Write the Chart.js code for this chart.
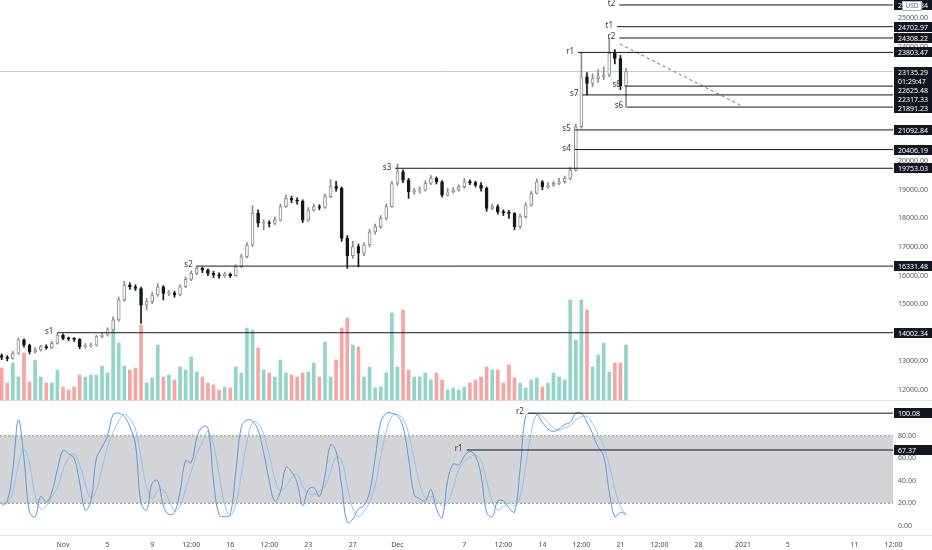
<!DOCTYPE html>
<html>
<head>
<meta charset="utf-8">
<script src="https://cdn.jsdelivr.net/npm/chart.js@4.4.1/dist/chart.umd.min.js"></script>
<style>
  html, body { margin: 0; padding: 0; background: #ffffff; }
  canvas { display: block; }
</style>
</head>
<body>
<canvas id="btcChart" width="932" height="550"></canvas>
<script>
// x = days since Nov 1 2020, one candle every 12h
const firstDay = -5.5;
const firstOpen = 13200;

const closes = [
  13140, 13105, 13280, 13750, 13570, 13340, 13400, 13515, 13480, 13630,
  13920, 13805, 13790, 13770, 13515, 13540, 13570, 13865, 13920, 14100,
  14450, 15150, 15670, 15610, 15550, 14970, 15090, 15320, 15610, 15380,
  15400, 15320, 15610, 15870, 16080, 16250, 16190, 16080, 16020, 15990,
  16040, 16000, 16310, 16660, 17070, 18180, 17830, 17850, 17820, 17940,
  18410, 18700, 18640, 18600, 17940, 18290, 18410, 18380, 18760, 19110,
  19050, 17300, 16700, 17010, 16780, 17070, 17530, 17710, 18000, 18410,
  19220, 19630, 19340, 18930, 18960, 18990, 19225, 19400, 19280, 18815,
  18930, 18990, 19105, 19280, 19250, 19165, 19050, 18350, 18410, 18230,
  18200, 18175, 17710, 18060, 18465, 18875, 19280, 19105, 19165, 19225,
  19280, 19400, 19690, 21205, 22950, 22720, 22890, 22950, 23010, 23770,
  23590, 22625, 23135
];
const highs = [
  13260, 13200, 13350, 13820, 13790, 13600, 13480, 13560, 13580, 13700,
  14002, 13960, 13850, 13830, 13800, 13620, 13640, 13920, 13990, 14180,
  14560, 15250, 15800, 15750, 15680, 15600, 15200, 15420, 15720, 15650,
  15480, 15450, 15680, 15950, 16160, 16331, 16300, 16240, 16150, 16100,
  16120, 16090, 16380, 16750, 17150, 18450, 18300, 17950, 17920, 18050,
  18500, 18820, 18780, 18720, 18650, 18380, 18500, 18480, 18850, 19350,
  19300, 19100, 17400, 17200, 17100, 17150, 17620, 17800, 18100, 18500,
  19300, 19900, 19700, 19400, 19050, 19100, 19320, 19500, 19450, 19320,
  19050, 19080, 19180, 19400, 19350, 19300, 19250, 19100, 18500, 18480,
  18300, 18280, 18200, 18150, 18550, 18950, 19380, 19320, 19250, 19300,
  19400, 19480, 19780, 21300, 23803, 23100, 23050, 23200, 23300, 24308,
  23900, 23700, 23250
];
const lows = [
  13060, 13020, 13080, 13250, 13500, 13260, 13280, 13360, 13420, 13450,
  13600, 13760, 13720, 13700, 13440, 13460, 13490, 13540, 13820, 13880,
  14060, 14400, 15100, 15520, 15480, 14330, 14800, 15020, 15280, 15150,
  15300, 15240, 15290, 15580, 15820, 16030, 16100, 16000, 15930, 15900,
  15940, 15930, 15980, 16280, 16620, 17020, 17700, 17600, 17700, 17780,
  17900, 18380, 18550, 18500, 17850, 17900, 18250, 18300, 18350, 18720,
  18950, 17200, 16250, 16600, 16300, 16700, 17000, 17450, 17650, 17950,
  18380, 19150, 19250, 18700, 18850, 18880, 18950, 19180, 19200, 18750,
  18780, 18880, 18950, 19050, 19180, 19100, 18950, 18250, 18300, 18150,
  18100, 18000, 17600, 17650, 18000, 18420, 18850, 19000, 19050, 19120,
  19180, 19230, 19350, 19650, 21150, 22317, 22600, 22750, 22850, 22950,
  23400, 22500, 21891
];
const volumes = [
  32, 17, 37, 23, 47, 18, 40, 23, 17, 17,
  30, 13, 10, 13, 25, 23, 25, 25, 34, 27,
  70, 57, 34, 30, 32, 75, 17, 22, 55, 23,
  25, 20, 33, 30, 43, 28, 23, 17, 15, 10,
  13, 12, 33, 27, 72, 70, 52, 30, 27, 23,
  40, 27, 25, 23, 27, 28, 37, 23, 58, 23,
  40, 72, 82, 55, 53, 23, 33, 12, 13, 27,
  87, 33, 90, 30, 23, 23, 27, 20, 27, 20,
  10, 12, 10, 13, 17, 20, 23, 33, 30, 30,
  17, 35, 22, 17, 12, 20, 22, 13, 17, 27,
  23, 20, 100, 60, 100, 90, 33, 45, 57, 28,
  37, 37, 55
];
const stochK = [
  18, 22, 50, 94, 60, 12, 8, 26, 21, 30,
  50, 67, 64, 60, 38, 14, 22, 60, 70, 80,
  99, 100, 97, 88, 72, 20, 14, 38, 40, 18,
  10, 12, 30, 58, 56, 78, 88, 87, 40, 10,
  8, 10, 48, 88, 94, 93, 85, 65, 40, 22,
  30, 52, 48, 38, 18, 32, 34, 26, 45, 72,
  66, 35, 3, 6, 15, 18, 30, 60, 92, 100,
  100, 98, 88, 60, 28, 24, 22, 32, 15, 7,
  40, 55, 54, 62, 66, 62, 45, 12, 8, 22,
  22, 16, 12, 50, 98, 100, 99, 92, 86, 84,
  86, 90, 92, 100, 100, 92, 82, 70, 62, 30,
  8, 12, 10
];
const stochD = [
  20, 20, 30, 55, 68, 55, 27, 15, 18, 26,
  34, 50, 60, 64, 54, 37, 25, 32, 51, 70,
  83, 93, 99, 95, 86, 60, 35, 24, 31, 32,
  23, 13, 17, 33, 48, 64, 74, 84, 72, 46,
  19, 9, 19, 46, 74, 92, 91, 81, 63, 42,
  31, 35, 43, 46, 35, 29, 28, 31, 35, 48,
  61, 58, 35, 15, 8, 13, 21, 36, 61, 84,
  97, 99, 95, 82, 59, 37, 25, 26, 23, 18,
  21, 34, 50, 57, 61, 63, 58, 40, 22, 14,
  17, 20, 17, 26, 53, 83, 99, 97, 92, 87,
  85, 87, 89, 94, 97, 97, 91, 81, 71, 54,
  33, 17, 10
];

const priceTicks = [12000, 12500, 13000, 13500, 14000, 14500, 15000, 15500, 16000, 16500, 17000, 17500, 18000, 18500, 19000, 19500, 20000, 20500, 21000, 21500, 22000, 22500, 23000, 23500, 24000, 24500, 25000];
const stochTicks = [0, 20, 40, 60, 80, 100];
const dateTicks = [0, 4, 8, 11.5, 15, 18.5, 22, 26, 30, 36, 39.5, 43, 46.5, 50, 53.5, 57, 61, 65, 71, 74.5];
const dateLabels = ['Nov', '5', '9', '12:00', '16', '12:00', '23', '27', 'Dec', '7', '12:00', '14', '12:00', '21', '12:00', '28', '2021', '5', '11', '12:00'];

const levelNames = ['t2', 't1', 'r2', 'r1', 's8', 's7', 's6', 's5', 's4', 's3', 's2', 's1'];
const levelPrices = [25461.84, 24702.97, 24308.22, 23803.47, 22625.48, 22317.33, 21891.23, 21092.84, 20406.19, 19753.03, 16331.48, 14002.34];
const levelStarts = [49.9, 49.7, 49.9, 46.2, 50.4, 46.6, 50.6, 45.9, 45.9, 29.8, 12.0, -0.5];

const stochLevelNames = ['r2', 'r1'];
const stochLevels = [100.08, 67.37];
const stochStarts = [41.7, 36.2];

const lastPrice = 23135.29;
const countdown = '01:29:47';
const trendFrom = [49.96, 24098];
const trendTo = [60.9, 21930];

const xMin = -5.65, xMax = 74.45;
const FONT = '"Noto Sans", "DejaVu Sans", sans-serif';
const INK = '#131722';

const xs = closes.map((c, i) => firstDay + i * 0.5);
const opens = closes.map((c, i) => i === 0 ? firstOpen : closes[i - 1]);
const isUp = closes.map((c, i) => c >= opens[i]);

const datasets = [];

// candle bodies and wicks
datasets.push({
  type: 'bar', yAxisID: 'y', order: 1, grouped: false,
  data: xs.map((x, i) => ({ x: x, y: [opens[i], closes[i]] })),
  backgroundColor: isUp.map(u => u ? '#ffffff' : INK),
  borderColor: isUp.map(u => u ? '#8c8c8c' : INK),
  borderWidth: 1, borderSkipped: false, barThickness: 3, minBarLength: 1
});
datasets.push({
  type: 'bar', yAxisID: 'y', order: 2, grouped: false,
  data: xs.map((x, i) => ({ x: x, y: [lows[i], highs[i]] })),
  backgroundColor: isUp.map(u => u ? '#8c8c8c' : INK),
  barThickness: 1
});
// volume
datasets.push({
  type: 'bar', yAxisID: 'yVol', order: 6, grouped: false,
  data: xs.map((x, i) => ({ x: x, y: volumes[i] })),
  backgroundColor: isUp.map(u => u ? '#92d4c9' : '#f5a5a3'),
  barThickness: 3
});
// support / resistance levels
levelPrices.forEach((p, i) => {
  datasets.push({
    type: 'line', yAxisID: 'y', order: 0,
    data: [{ x: levelStarts[i], y: p }, { x: xMax, y: p }],
    borderColor: INK, borderWidth: 1, pointRadius: 0
  });
});
// last price line
datasets.push({
  type: 'line', yAxisID: 'y', order: 7,
  data: [{ x: xMin, y: lastPrice }, { x: xMax, y: lastPrice }],
  borderColor: '#c9cbd1', borderWidth: 1, pointRadius: 0
});
// trend line
datasets.push({
  type: 'line', yAxisID: 'y', order: 0,
  data: [{ x: trendFrom[0], y: trendFrom[1] }, { x: trendTo[0], y: trendTo[1] }],
  borderColor: '#6b6b6b', borderWidth: 1, borderDash: [3, 3], pointRadius: 0
});
// stoch band 20-80
datasets.push({
  type: 'line', yAxisID: 'yStoch', order: 9,
  data: [{ x: xMin, y: 80 }, { x: xMax, y: 80 }],
  borderColor: '#8a8a8a', borderWidth: 1, borderDash: [2, 2], pointRadius: 0,
  fill: { value: 20 }, backgroundColor: '#d3d4d7'
});
datasets.push({
  type: 'line', yAxisID: 'yStoch', order: 8,
  data: [{ x: xMin, y: 20 }, { x: xMax, y: 20 }],
  borderColor: '#8a8a8a', borderWidth: 1, borderDash: [2, 2], pointRadius: 0
});
// stoch RSI lines
datasets.push({
  type: 'line', yAxisID: 'yStoch', order: 3,
  data: xs.map((x, i) => ({ x: x, y: stochD[i] })),
  borderColor: '#8fc2ee', borderWidth: 1, pointRadius: 0, tension: 0.4
});
datasets.push({
  type: 'line', yAxisID: 'yStoch', order: 2,
  data: xs.map((x, i) => ({ x: x, y: stochK[i] })),
  borderColor: '#5b98d6', borderWidth: 1, pointRadius: 0, tension: 0.4
});
stochLevels.forEach((v, i) => {
  datasets.push({
    type: 'line', yAxisID: 'yStoch', order: 0,
    data: [{ x: stochStarts[i], y: v }, { x: xMax, y: v }],
    borderColor: INK, borderWidth: 1, pointRadius: 0
  });
});

function tagBox(ctx, x, y, text) {
  ctx.fillStyle = INK;
  ctx.fillRect(x, Math.round(y) - 5, 932 - x, 10);
  ctx.fillStyle = '#ffffff';
  ctx.font = '7px ' + FONT;
  ctx.textAlign = 'left';
  ctx.textBaseline = 'middle';
  ctx.fillText(text, x + 4, Math.round(y) + 0.5);
}

const overlay = {
  id: 'overlay',
  beforeDatasetsDraw(chart) {
    const ctx = chart.ctx, area = chart.chartArea, ys = chart.scales.yStoch;
    ctx.save();
    ctx.strokeStyle = '#e0e3eb';
    ctx.lineWidth = 1;
    ctx.beginPath();
    ctx.moveTo(0, Math.round(ys.top) + 0.5); ctx.lineTo(932, Math.round(ys.top) + 0.5);
    ctx.moveTo(0, Math.round(area.bottom) + 0.5); ctx.lineTo(932, Math.round(area.bottom) + 0.5);
    ctx.stroke();
    ctx.restore();
  },
  afterDraw(chart) {
    const ctx = chart.ctx, sx = chart.scales.x, sy = chart.scales.y, ss = chart.scales.yStoch;
    const boxX = Math.round(chart.chartArea.right) + 1;
    ctx.save();
    ctx.font = '8px ' + FONT;
    ctx.fillStyle = '#333';
    ctx.textAlign = 'right';
    ctx.textBaseline = 'middle';
    levelNames.forEach((n, i) => {
      ctx.fillText(n, sx.getPixelForValue(levelStarts[i]) - 4, sy.getPixelForValue(levelPrices[i]) - 1);
    });
    stochLevelNames.forEach((n, i) => {
      ctx.fillText(n, sx.getPixelForValue(stochStarts[i]) - 4, ss.getPixelForValue(stochLevels[i]) - 1);
    });
    // price tags, pushed down when they would overlap
    const tags = levelPrices.map(p => ({ y: sy.getPixelForValue(p), text: p.toFixed(2) }));
    const ly = sy.getPixelForValue(lastPrice);
    tags.push({ y: ly, text: lastPrice.toFixed(2) });
    tags.push({ y: ly + 0.1, text: countdown });
    tags.sort((a, b) => a.y - b.y);
    let prev = -100;
    tags.forEach(t => {
      const y = Math.max(t.y, prev + 9);
      tagBox(ctx, boxX, y, t.text);
      prev = y;
    });
    stochLevels.forEach(v => tagBox(ctx, boxX, ss.getPixelForValue(v), v.toFixed(2)));
    // currency badge
    ctx.fillStyle = '#ffffff';
    ctx.strokeStyle = '#b2b5be';
    ctx.fillRect(902, 1, 20, 10);
    ctx.strokeRect(902.5, 1.5, 19, 9);
    ctx.fillStyle = '#6a6d78';
    ctx.font = '6.5px ' + FONT;
    ctx.textAlign = 'center';
    ctx.fillText('USD', 912, 6.5);
    ctx.restore();
  }
};

const tickFont = { family: FONT, size: 7 };
const noPad = s => { s.paddingTop = 0; s.paddingBottom = 0; s.paddingLeft = 0; s.paddingRight = 0; };

new Chart(document.getElementById('btcChart'), {
  type: 'bar',
  data: { datasets: datasets },
  options: {
    responsive: false,
    animation: false,
    layout: { padding: 0 },
    plugins: { legend: { display: false }, tooltip: { enabled: false } },
    scales: {
      x: {
        type: 'linear', min: xMin, max: xMax, offset: false,
        grid: { display: false, drawTicks: false }, border: { display: false },
        ticks: { font: tickFont, color: '#4a4a4a', padding: 6, maxRotation: 0, autoSkip: false,
                 callback: (v, i) => dateLabels[i] },
        afterBuildTicks: s => { s.ticks = dateTicks.map(v => ({ value: v })); },
        afterFit: s => { s.height = 15; noPad(s); }
      },
      y: {
        type: 'linear', position: 'right', stack: 'panes', stackWeight: 400,
        min: 11650, max: 25636,
        grid: { display: false, drawTicks: false }, border: { display: false },
        ticks: { font: tickFont, color: '#555', padding: 5, callback: v => Number(v).toFixed(2) },
        afterBuildTicks: s => { s.ticks = priceTicks.map(v => ({ value: v })); },
        afterFit: s => { s.width = 39; noPad(s); }
      },
      yStoch: {
        type: 'linear', position: 'right', stack: 'panes', stackWeight: 135,
        min: -8.2, max: 111.8,
        grid: { display: false, drawTicks: false }, border: { display: false },
        ticks: { font: tickFont, color: '#555', padding: 5, callback: v => Number(v).toFixed(2) },
        afterBuildTicks: s => { s.ticks = stochTicks.map(v => ({ value: v })); },
        afterFit: s => { s.width = 39; noPad(s); }
      },
      yVol: { type: 'linear', display: false, min: -135, max: 400 }
    }
  },
  plugins: [overlay]
});
</script>
</body>
</html>
